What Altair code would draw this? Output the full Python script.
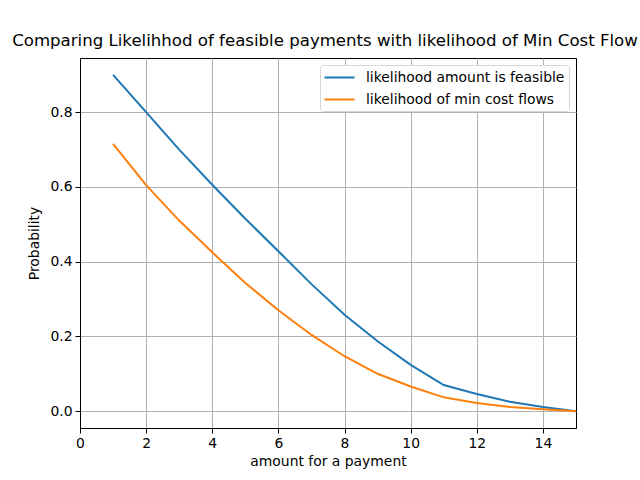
import altair as alt
import pandas as pd

amounts = list(range(1, 16))
feasible = [0.90, 0.80, 0.70, 0.606, 0.515, 0.428, 0.34, 0.258, 0.187, 0.124, 0.07, 0.046, 0.025, 0.011, 0.0]
min_cost = [0.715, 0.605, 0.51, 0.425, 0.343, 0.27, 0.204, 0.147, 0.10, 0.066, 0.037, 0.022, 0.011, 0.005, 0.0]
series_names = ["likelihood amount is feasible", "likelihood of min cost flows"]
x_ticks = [0, 2, 4, 6, 8, 10, 12, 14]
y_ticks = [0.0, 0.2, 0.4, 0.6, 0.8]

rows = []
for a, v in zip(amounts, feasible):
    rows.append({"amount": a, "p": v, "series": series_names[0]})
for a, v in zip(amounts, min_cost):
    rows.append({"amount": a, "p": v, "series": series_names[1]})
df = pd.DataFrame(rows)

font = "DejaVu Sans"

chart = alt.Chart(df).mark_line(strokeWidth=2, clip=True).encode(
    x=alt.X("amount:Q", title="amount for a payment",
            scale=alt.Scale(domain=[0, 15], nice=False, zero=False),
            axis=alt.Axis(values=x_ticks, format="d", labelFlush=False)),
    y=alt.Y("p:Q", title="Probability",
            scale=alt.Scale(domain=[-0.045, 0.945], nice=False, zero=False),
            axis=alt.Axis(values=y_ticks, format=".1f", labelFlush=False)),
    color=alt.Color("series:N", sort=series_names,
                    scale=alt.Scale(domain=series_names, range=["#1f77b4", "#ff7f0e"]),
                    legend=alt.Legend(title=None, orient="top-right", offset=7,
                                      symbolType="M-2,0H2", symbolSize=225,
                                      symbolStrokeWidth=2, symbolOffset=7,
                                      labelFontSize=13.9,
                                      labelFont=font, labelColor="black",
                                      fillColor="white", strokeColor="#d6d6d6",
                                      cornerRadius=3, padding=4, rowPadding=6,
                                      labelOffset=18, labelLimit=400)),
).properties(
    width=496, height=370,
    title=alt.TitleParams("Comparing Likelihhod of feasible payments with likelihood of Min Cost Flow",
                          font=font, fontSize=16.6, fontWeight="normal", color="black",
                          anchor="middle", frame="group", offset=8, dx=-3),
    autosize=alt.AutoSizeParams(type="none"),
    padding={"left": 80, "top": 58, "right": 64, "bottom": 52},
).configure_axis(
    labelFont=font, labelFontSize=13.9, labelColor="black",
    titleFont=font, titleFontSize=13.9, titleColor="black", titleFontWeight="normal",
    domainColor="black", domainWidth=1, tickColor="black", tickSize=5, tickWidth=1,
    gridColor="#b0b0b0", gridWidth=1, labelPadding=3,
).configure_axisX(titlePadding=5).configure_axisY(titlePadding=8).configure_view(
    stroke="black", strokeWidth=1
)

chart.save("out.html", embed_options={"renderer": "svg", "actions": False})
